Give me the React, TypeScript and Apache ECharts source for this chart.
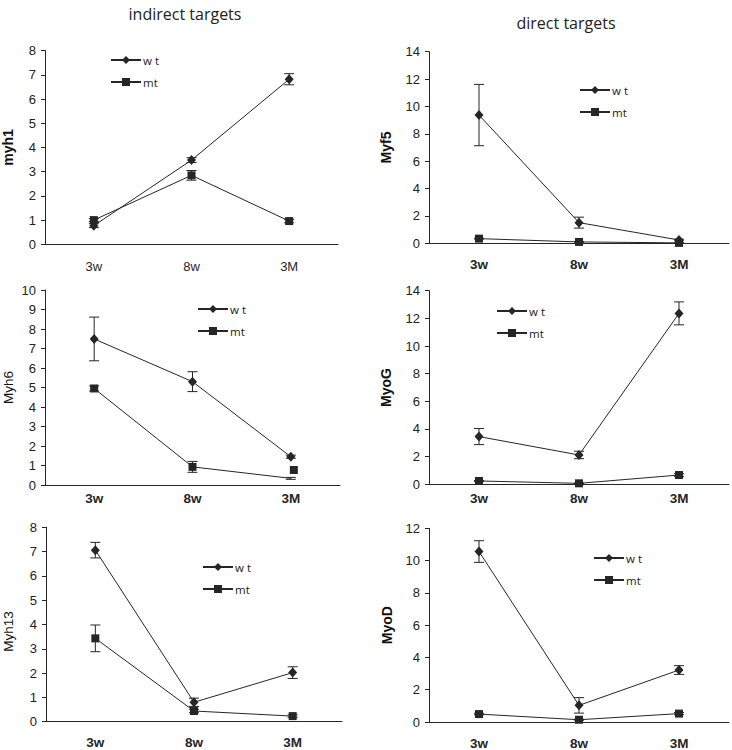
import React, { useEffect, useRef } from "react";
import * as echarts from "echarts";

const categories = ["3w", "8w", "3M"];

const myh1Wt = [0.77, 3.48, 6.82];
const myh1WtErr = [0.08, 0.1, 0.23];
const myh1Mt = [1.0, 2.85, 0.96];
const myh1MtErr = [0.06, 0.2, 0.07];

const myf5Wt = [9.37, 1.51, 0.24];
const myf5WtErr = [2.24, 0.4, 0.06];
const myf5Mt = [0.34, 0.1, 0.03];
const myf5MtErr = [0.03, 0.02, 0.02];

const myh6Wt = [7.49, 5.3, 1.45];
const myh6WtErr = [1.12, 0.51, 0.08];
const myh6Mt = [4.95, 0.93, 0.34];
const myh6MtErr = [0.13, 0.28, 0.05];
const myh6MtStrayMarker = 0.77;

const myoGWt = [3.45, 2.12, 12.36];
const myoGWtErr = [0.58, 0.27, 0.83];
const myoGMt = [0.24, 0.07, 0.67];
const myoGMtErr = [0.03, 0.02, 0.1];

const myh13Wt = [7.06, 0.8, 2.02];
const myh13WtErr = [0.32, 0.17, 0.24];
const myh13Mt = [3.43, 0.44, 0.23];
const myh13MtErr = [0.55, 0.07, 0.05];

const myoDWt = [10.56, 1.03, 3.22];
const myoDWtErr = [0.67, 0.48, 0.27];
const myoDMt = [0.49, 0.14, 0.52];
const myoDMtErr = [0.05, 0.03, 0.07];

const INK = "#262626";

type Panel = {
  name: string;
  nameBold: boolean;
  labelBold: boolean;
  max: number;
  interval: number;
  wt: number[];
  wtErr: number[];
  mt: number[];
  mtErr: number[];
  grid: { left: number; top: number; width: number; height: number };
  nameGap: number;
  namePad: number[];
  labelMargin: number;
  legend: { left: number; top: number };
};

const panels: Panel[] = [
  {
    name: "myh1", nameBold: true, labelBold: false, max: 8, interval: 1,
    wt: myh1Wt, wtErr: myh1WtErr, mt: myh1Mt, mtErr: myh1MtErr,
    grid: { left: 44, top: 50.7, width: 294, height: 193.6 },
    nameGap: 30, namePad: [0, 0, 0, 0], labelMargin: 16, legend: { left: 110, top: 54 },
  },
  {
    name: "Myf5", nameBold: true, labelBold: true, max: 14, interval: 2,
    wt: myf5Wt, wtErr: myf5WtErr, mt: myf5Mt, mtErr: myf5MtErr,
    grid: { left: 429, top: 51.7, width: 300, height: 191.6 },
    nameGap: 36, namePad: [0, 0, 0, 0], labelMargin: 14, legend: { left: 579, top: 84 },
  },
  {
    name: "Myh6", nameBold: false, labelBold: true, max: 10, interval: 1,
    wt: myh6Wt, wtErr: myh6WtErr, mt: myh6Mt, mtErr: myh6MtErr,
    grid: { left: 42, top: 290, width: 298, height: 195 },
    nameGap: 30, namePad: [0, 0, 0, 0], labelMargin: 6, legend: { left: 197, top: 303 },
  },
  {
    name: "MyoG", nameBold: true, labelBold: true, max: 14, interval: 2,
    wt: myoGWt, wtErr: myoGWtErr, mt: myoGMt, mtErr: myoGMtErr,
    grid: { left: 429, top: 290.7, width: 300, height: 193.6 },
    nameGap: 36, namePad: [0, 0, 0, 0], labelMargin: 7, legend: { left: 496, top: 305 },
  },
  {
    name: "Myh13", nameBold: false, labelBold: true, max: 8, interval: 1,
    wt: myh13Wt, wtErr: myh13WtErr, mt: myh13Mt, mtErr: myh13MtErr,
    grid: { left: 46, top: 527.3, width: 296, height: 194.4 },
    nameGap: 31, namePad: [0, 14, 0, 0], labelMargin: 14, legend: { left: 202, top: 561 },
  },
  {
    name: "MyoD", nameBold: true, labelBold: true, max: 12, interval: 2,
    wt: myoDWt, wtErr: myoDWtErr, mt: myoDMt, mtErr: myoDMtErr,
    grid: { left: 429, top: 528.3, width: 300, height: 194 },
    nameGap: 35, namePad: [0, 0, 0, 0], labelMargin: 14, legend: { left: 593, top: 552 },
  },
];

function errorSeries(values: number[], errs: number[], idx: number) {
  return {
    type: "custom",
    xAxisIndex: idx,
    yAxisIndex: idx,
    silent: true,
    z: 1,
    data: values.map((v, i) => [i, v, errs[i]]),
    renderItem: (params: any, api: any) => {
      const x = api.value(0);
      const y = api.value(1);
      const e = api.value(2);
      const hi = api.coord([x, y + e]);
      const lo = api.coord([x, y - e]);
      const cap = 5;
      const style = { stroke: INK, lineWidth: 1 };
      return {
        type: "group",
        children: [
          { type: "line", shape: { x1: hi[0], y1: hi[1], x2: lo[0], y2: lo[1] }, style },
          { type: "line", shape: { x1: hi[0] - cap, y1: hi[1], x2: hi[0] + cap, y2: hi[1] }, style },
          { type: "line", shape: { x1: lo[0] - cap, y1: lo[1], x2: lo[0] + cap, y2: lo[1] }, style },
        ],
      };
    },
  };
}

export default function App() {
  const ref = useRef<HTMLDivElement>(null);

  useEffect(() => {
    if (!ref.current) return;
    const chart = echarts.init(ref.current, undefined, { renderer: "svg" });

    const grid: any[] = [];
    const xAxis: any[] = [];
    const yAxis: any[] = [];
    const series: any[] = [];
    const legend: any[] = [];

    panels.forEach((p, i) => {
      grid.push({ ...p.grid });
      xAxis.push({
        type: "category",
        gridIndex: i,
        data: categories,
        boundaryGap: true,
        axisLine: { onZero: false, lineStyle: { color: INK, width: 1 } },
        axisTick: { show: false },
        axisLabel: {
          color: INK,
          fontFamily: "Liberation Sans, Arial, sans-serif",
          fontSize: p.labelBold ? 13.5 : 13,
          fontWeight: p.labelBold ? "bold" : "normal",
          margin: p.labelMargin,
        },
        splitLine: { show: false },
      });
      yAxis.push({
        type: "value",
        gridIndex: i,
        min: 0,
        max: p.max,
        interval: p.interval,
        name: p.name,
        nameLocation: "middle",
        nameRotate: 90,
        nameGap: p.nameGap,
        nameTextStyle: {
          color: "#111",
          fontFamily: "Liberation Sans, Arial, sans-serif",
          fontSize: p.nameBold ? 14 : 13.5,
          fontWeight: p.nameBold ? "bold" : "normal",
          padding: p.namePad,
        },
        axisLine: { show: true, lineStyle: { color: INK, width: 1 } },
        axisTick: { show: true, length: 4, lineStyle: { color: INK } },
        axisLabel: {
          color: "#222",
          fontFamily: "Liberation Sans, Arial, sans-serif",
          fontSize: 13,
          margin: 9,
        },
        splitLine: { show: false },
      });

      series.push(errorSeries(p.wt, p.wtErr, i));
      series.push(errorSeries(p.mt, p.mtErr, i));

      series.push({
        type: "line",
        name: "w t",
        xAxisIndex: i,
        yAxisIndex: i,
        data: p.wt,
        symbol: "diamond",
        symbolSize: [9, 10],
        itemStyle: { color: INK },
        lineStyle: { color: INK, width: 1 },
        z: 3,
      });
      const mtData: any[] =
        i === 2
          ? p.mt.map((v, k) => (k === 2 ? { value: v, symbol: "none" } : v))
          : p.mt;
      series.push({
        type: "line",
        name: "mt",
        xAxisIndex: i,
        yAxisIndex: i,
        data: mtData,
        symbol: "rect",
        symbolSize: 8,
        itemStyle: { color: INK },
        lineStyle: { color: INK, width: 1 },
        z: 3,
      });
      if (i === 2) {
        series.push({
          type: "scatter",
          name: "mt marker",
          xAxisIndex: i,
          yAxisIndex: i,
          data: [[2, myh6MtStrayMarker]],
          symbol: "rect",
          symbolSize: 8,
          symbolOffset: [3, 0],
          itemStyle: { color: INK, opacity: 1 },
          z: 3,
        });
      }

      legend.push({
        left: p.legend.left,
        top: p.legend.top,
        orient: "vertical",
        data: ["w t", "mt"],
        itemWidth: 30,
        itemHeight: 10,
        itemGap: 10,
        padding: 0,
        selectedMode: false,
        textStyle: {
          color: "#222",
          fontFamily: "Open Sans, sans-serif",
          fontSize: 11.5,
          padding: [0, 0, 0, -3],
        },
      });
    });

    chart.setOption({
      animation: false,
      backgroundColor: "#ffffff",
      title: [
        {
          text: "indirect targets",
          left: 180,
          top: 1,
          textAlign: "center",
          textStyle: { fontFamily: "Open Sans, sans-serif", fontSize: 16, fontWeight: "normal", color: "#222" },
        },
        {
          text: "direct targets",
          left: 561,
          top: 10,
          textAlign: "center",
          textStyle: { fontFamily: "Open Sans, sans-serif", fontSize: 16, fontWeight: "normal", color: "#222" },
        },
      ],
      legend,
      grid,
      xAxis,
      yAxis,
      series,
    });

    return () => chart.dispose();
  }, []);

  return (
    <div
      ref={ref}
      style={{ position: "absolute", left: 0, top: 0, width: 732, height: 750, background: "#fff" }}
    />
  );
}
